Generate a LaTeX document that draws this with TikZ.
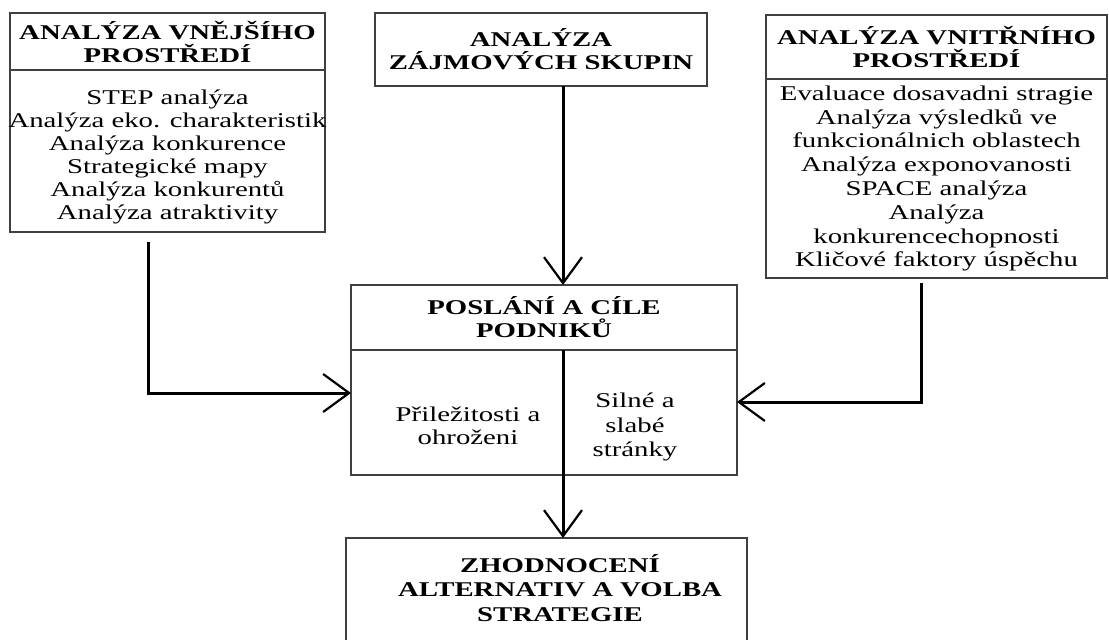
\documentclass[tikz,border=0pt]{standalone}
\usepackage{fontspec}
\setmainfont[FakeStretch=1.37]{Liberation Serif}
\usetikzlibrary{positioning,arrows.meta}
\definecolor{rim}{HTML}{404040}
\tikzset{
	part/.style={draw=rim,line width=1.3pt,inner sep=0pt,outer sep=0pt,align=center,font=\fontsize{21}{23}\selectfont},
	head/.style={part,font=\fontsize{21}{23}\selectfont\bfseries},
	txt/.style={inner sep=0pt,align=center,font=\fontsize{21}{23}\selectfont},
	flow/.style={line width=3pt,-{Straight Barb[length=26pt,width=38pt,line width=2.2pt]}}
}
\begin{document}
\begin{tikzpicture}[x=1pt,y=-1pt]
	\clip (0,0) rectangle (1109,640);

	\node[head,minimum width=315pt,minimum height=57pt] (vnejsihead) at (167.5,41.5) {ANALÝZA VNĚJŠÍHO\\PROSTŘEDÍ};
	\node[part,minimum width=315pt,minimum height=162pt,below=0pt of vnejsihead] (vnejsibody) {};
	\node[txt] (vnejsitext) at ([yshift=-6pt]vnejsibody.center) {STEP analýza\\Analýza eko. charakteristik\\Analýza konkurence\\Strategické mapy\\Analýza konkurentů\\Analýza atraktivity};

	\node[head,minimum width=332pt,minimum height=73pt] (zajmove) at (541,49.5) {ANALÝZA\\ZÁJMOVÝCH SKUPIN};

	\node[head,minimum width=341pt,minimum height=64pt] (vnitrnihead) at (936.5,47) {ANALÝZA VNITŘNÍHO\\PROSTŘEDÍ};
	\node[part,minimum width=341pt,minimum height=199pt,below=0pt of vnitrnihead] (vnitrnibody) {};
	\node[txt,font=\fontsize{21}{23.8}\selectfont] (vnitrnitext) at (vnitrnibody.center) {Evaluace dosavadni stragie\\Analýza výsledků ve\\funkcionálnich oblastech\\Analýza exponovanosti\\SPACE analýza\\Analýza\\konkurencechopnosti\\Kličové faktory úspěchu};

	\node[head,minimum width=386pt,minimum height=65pt] (poslanihead) at (544,317.5) {POSLÁNÍ A CÍLE\\PODNIKŮ};
	\node[part,minimum width=386pt,minimum height=125pt,below=0pt of poslanihead] (poslanibody) {};
	\node[txt] (prilezitosti) at (468,426) {Přiležitosti a\\ohroženi};
	\node[txt,font=\fontsize{21}{24.5}\selectfont] (silne) at (635,427) {Silné a\\slabé\\stránky};

	\node[part,minimum width=401pt,minimum height=140pt,anchor=north] (zhodnoceni) at (546.5,538) {};
	\node[txt,font=\fontsize{21}{24.5}\selectfont\bfseries] (zhodnocenitext) at (560,588) {ZHODNOCENÍ\\ALTERNATIV A VOLBA\\STRATEGIE};

	\coordinate (split) at (563,350);
	\coordinate (vnejsiout) at (148,242);
	\coordinate (vnitrniout) at (921,283);

	\draw[flow] (split |- zajmove.south) -- (split |- poslanihead.north);
	\draw[flow] (vnejsiout) |- ([yshift=19.5pt]poslanibody.west);
	\draw[flow] (vnitrniout) |- ([yshift=10.5pt]poslanibody.east);
	\draw[flow] (split) -- (split |- zhodnoceni.north);
\end{tikzpicture}
\end{document}
